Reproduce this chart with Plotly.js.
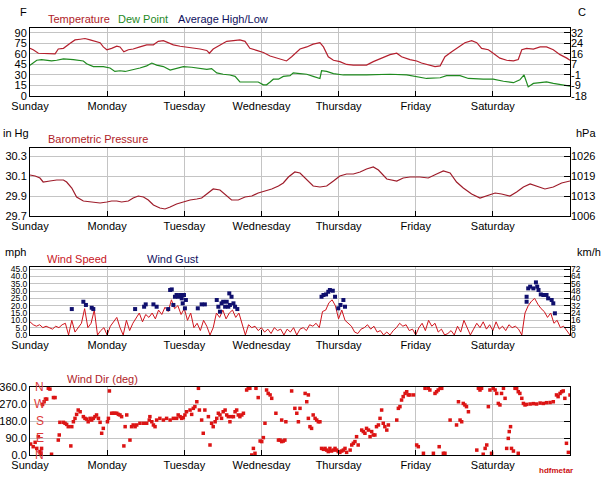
<!DOCTYPE html>
<html>
<head>
<meta charset="utf-8">
<script src="https://cdn.plot.ly/plotly-3.0.1.min.js"></script>
<style>html,body{margin:0;padding:0;background:#fff;}#chart{width:606px;height:484px;}</style>
</head>
<body>
<div id="chart"></div>
<script>
// ---------- categories / tick labels ----------
const dayNames = ["Sunday","Monday","Tuesday","Wednesday","Thursday","Friday","Saturday"];
const dayHours = [0,24,48,72,96,120,144];
const tempTicksF = [0,15,30,45,60,75,90];
const tempTicksC = ["-18","-9","-1","7","16","24","32"];
const presTicksIn = [29.7,29.9,30.1,30.3];
const presTicksHpa = ["1006","1013","1019","1026"];
const windTicksMph = [0,5,10,15,20,25,30,35,40,45];
const windTicksKmh = ["0","8","16","24","32","40","48","56","64","72"];
const dirTicks = [0,90,180,270,360];
const compassLetters = ["N","E","S","W","N"];

// ---------- temperature (F) ----------
const tempHours = [0,1.0,2.6,4.1,7.3,7.8,8.8,10.4,12.4,14.0,15.6,17.1,18.7,20.2,21.8,22.8,23.9,25.4,27.0,28.0,29.2,30.6,32.1,34.2,36.3,38.4,39.9,41.5,43.0,44.6,46.7,48.7,50.8,52.9,55.0,55.8,57.0,59.1,61.2,63.3,65.3,66.9,68.4,70.5,72.6,74.7,76.7,78.8,79.8,81.4,84.0,86.1,88.1,90.2,91.3,92.8,94.4,96.4,98.5,100.6,102.7,104.7,106.8,109.4,112.0,114.1,115.6,118.2,120.3,121.8,123.9,126.0,127.6,129.1,131.2,133.3,135.3,137.4,139.0,140.5,142.6,144.1,146.2,148.3,150.4,151.9,153.0,154.5,156.6,158.7,160.7,162.8,164.9,167.0,168.0];
const tempF = [68,66,61,61,61,60,67,68,75,80,81,82,80,78,76,70,66,68,71,70,63,66,67,70,73,73,78,79,76,73,71,70,68,67,65,61,67,73,78,79,80,78,68,65,62,57,54,51,50,56,67,70,74,76,70,56,51,49,45,44,44,44,49,54,59,61,56,52,50,47,45,42,43,56,63,70,76,79,76,68,66,61,54,51,50,52,66,68,67,70,70,66,59,54,51];

// ---------- dew point (F) ----------
const dewHours = [0,1.0,2.1,3.6,5.2,6.7,8.3,10.4,13.5,15.6,16.6,17.6,19.7,22.8,24.9,26.4,28.0,29.6,31.6,34.2,36.3,37.9,39.4,41.5,43.6,45.6,47.7,50.3,52.9,55.0,56.5,58.1,60.1,62.2,63.8,65.3,67.4,69.5,71.0,72.6,73.6,74.7,75.7,77.3,78.8,80.9,81.9,84.0,86.1,88.1,90.2,90.7,92.3,94.4,97.5,104.7,112.0,117.2,120.3,123.4,127.6,129.6,133.8,136.4,141.0,144.1,147.3,150.4,152.4,153.7,155.0,156.6,158.7,160.7,162.8,165.9,168.0];
const dewF = [44,47,51,52,51,50,51,53,52,51,50,46,42,42,40,35,36,35,37,40,43,47,44,42,37,39,42,41,39,38,39,33,31,30,28,20,20,20,20,16,16,20,24,24,28,29,33,32,31,28,25,36,35,32,30,30,31,30,28,25,26,29,29,25,24,24,21,19,23,30,13,18,19,20,18,15,14];

// ---------- barometric pressure (in Hg) ----------
const presHours = [0,1.6,3.1,4.1,6.2,8.3,10.4,11.4,13.0,14.5,16.6,19.2,21.8,23.9,25.4,27.0,28.5,30.6,32.1,33.7,35.3,36.8,38.4,40.4,42.0,43.6,45.6,47.7,49.8,51.9,53.4,55.0,57.0,59.1,61.2,62.7,64.8,66.9,69.0,71.0,73.1,75.2,77.3,78.8,80.4,82.4,84.0,86.1,88.1,90.2,92.3,94.4,96.4,98.5,100.6,102.7,104.7,106.8,108.4,111.0,114.1,116.1,118.2,121.3,123.9,126.5,128.6,130.7,132.7,134.8,137.4,140.0,142.1,144.7,146.7,149.3,151.4,153.5,155.6,157.6,160.2,162.8,165.4,168.0];
const presIn = [30.11,30.10,30.08,30.04,30.05,30.06,30.06,30.04,29.98,29.89,29.85,29.84,29.83,29.84,29.85,29.85,29.84,29.85,29.88,29.90,29.89,29.86,29.81,29.78,29.77,29.79,29.82,29.84,29.86,29.87,29.88,29.92,29.97,29.96,29.90,29.86,29.86,29.89,29.90,29.93,29.95,29.97,30.00,30.03,30.09,30.14,30.13,30.06,30.00,29.99,30.00,30.05,30.10,30.12,30.12,30.14,30.17,30.19,30.16,30.07,30.05,30.08,30.09,30.09,30.08,30.12,30.15,30.13,30.04,29.98,29.92,29.88,29.90,29.93,29.92,29.90,29.94,29.99,30.02,30.00,29.97,29.99,30.03,30.05];

// ---------- wind speed (mph), hourly from Sunday 00:00 ----------
const windSpeed = [9,7,6,7,5,6,5,4,6,5,7,8,0,10,2,5,8,18,5,8,17,0,3,5,0,6,9,12,5,0,10,3,8,12,15,9,14,12,15,11,17,14,19,16,24,18,20,14,18,10,15,5,8,3,10,6,0,5,15,12,17,11,15,17,12,15,8,0,7,5,6,3,5,2,4,1,5,3,4,0,4,2,5,0,4,5,3,7,6,8,5,16,17,22,24,20,11,17,10,8,6,2,1,4,5,7,4,6,2,3,0,2,0,3,5,8,6,7,3,4,0,5,8,3,10,6,8,2,4,0,1,3,0,6,2,10,5,0,4,8,5,9,4,7,3,9,4,6,3,7,5,6,4,0,15,20,23,25,21,18,16,12,15,8,10,5,6,3,0];
const windHours = windSpeed.map((_, i) => i);

// ---------- wind gust (mph) ----------
const gustHours = [13.0,16.6,17.4,19.2,19.7,32.7,35.5,36.0,38.4,39.4,43.0,43.6,44.1,44.6,45.1,45.6,46.1,46.7,47.2,47.5,47.9,48.2,48.5,52.2,53.4,54.4,58.1,58.6,59.1,59.6,60.1,60.7,61.2,61.7,62.0,62.2,62.7,63.3,63.8,64.5,90.7,91.3,92.1,92.8,93.3,94.2,94.9,95.9,96.6,97.5,98.0,154.5,154.5,155.0,155.6,156.6,157.4,157.8,158.2,158.9,159.7,160.2,160.7,161.2,162.3,162.8,163.3];
const gustMph = [17.7,22.7,20.5,18.6,17.7,17.7,19.3,20.9,20.9,19.3,17.7,30.7,31.1,20.5,26.1,27.3,26.1,27.3,25.0,21.6,27.3,18.2,23.9,18.2,20.9,20.9,23.9,19.3,15.9,21.6,22.7,19.3,22.7,19.3,28.4,20.5,26.1,21.6,19.3,17.7,26.1,27.3,27.7,29.5,30.7,30.2,26.1,18.2,20.5,23.9,19.3,26.1,22.7,31.8,33.0,31.8,35.9,33.0,30.7,27.7,27.3,27.3,27.3,25.0,23.9,21.6,14.8];

// ---------- wind direction (deg) ----------
const dirHours = [0.2,1.0,1.6,2.1,2.6,3.1,3.4,3.6,3.9,4.4,4.8,5.2,5.7,6.2,6.7,7.3,7.8,8.8,9.1,9.3,10.4,10.9,11.4,11.9,12.7,13.0,13.5,14.0,14.5,15.0,15.6,16.6,17.1,17.6,18.1,18.7,19.2,19.7,20.2,20.7,21.3,21.8,22.3,22.8,24.1,24.4,24.7,25.4,25.9,26.4,27.0,27.5,28.0,28.5,29.2,29.6,30.1,31.1,31.6,32.1,32.7,33.2,34.2,35.3,36.3,37.1,37.3,37.9,38.4,38.9,39.4,40.4,41.5,42.5,43.6,44.6,45.6,46.1,46.7,47.2,47.7,48.2,48.7,49.8,50.3,50.8,51.3,51.9,52.4,52.7,53.4,53.9,54.4,55.5,56.0,56.5,57.0,57.6,58.1,58.6,59.1,59.6,60.1,60.7,61.2,61.7,62.2,62.7,63.3,63.8,64.3,64.8,65.3,65.9,66.4,67.4,67.9,68.4,69.0,69.5,70.0,70.3,71.0,71.6,72.1,72.6,73.1,73.6,74.1,74.7,75.2,76.5,77.3,77.8,78.3,78.8,79.3,78.3,79.6,81.4,82.4,83.0,83.5,84.0,85.6,86.6,86.1,86.6,87.1,87.6,88.1,88.7,89.2,89.7,90.2,90.7,91.3,91.8,92.3,92.8,93.3,93.8,94.4,94.9,95.4,95.9,96.4,97.0,97.5,98.0,98.5,99.6,100.1,100.6,101.1,101.6,102.1,103.2,103.7,104.2,104.7,105.3,105.8,106.3,106.8,107.3,107.8,108.4,108.9,109.4,109.9,110.4,111.0,111.5,114.1,114.6,115.1,115.6,116.1,116.7,117.2,117.7,118.2,119.3,120.3,120.8,122.4,122.9,123.9,124.4,125.5,126.0,126.5,127.0,127.3,127.6,128.1,128.6,129.1,130.7,132.7,133.3,133.8,134.3,134.8,135.3,135.8,136.4,139.0,139.5,140.0,140.5,141.0,141.6,142.1,142.6,143.1,143.6,144.1,144.7,145.2,145.7,146.2,146.7,147.3,147.8,148.3,148.8,149.1,149.5,149.8,150.4,150.9,151.4,151.9,151.9,152.4,153.0,153.5,154.0,154.5,155.6,156.6,157.6,158.7,159.7,160.7,161.8,162.8,163.8,164.3,164.9,165.4,165.9,166.4,166.9,167.5,168.0];
const dirDeg = [58,44,67,35,97,18,9,35,268,282,296,296,353,349,4,304,304,79,106,173,173,168,162,150,48,150,176,194,215,238,229,203,194,190,176,194,185,194,203,212,194,173,115,141,176,194,339,221,221,221,221,215,212,203,48,150,212,79,150,159,150,159,168,168,168,185,203,176,159,150,185,194,185,194,185,194,194,212,203,194,198,212,229,238,215,247,256,282,353,238,185,115,238,203,53,168,150,176,194,221,212,194,229,238,212,203,176,203,203,229,238,212,203,212,221,344,353,353,0,35,9,353,304,74,71,92,168,344,326,318,300,221,79,79,71,74,79,185,176,339,247,221,176,247,326,318,282,194,150,141,212,194,185,176,176,35,30,35,26,18,35,21,26,35,26,18,14,21,26,35,14,26,53,62,71,97,53,132,124,115,141,132,97,124,106,106,150,159,194,238,168,150,132,159,185,247,256,291,309,326,335,318,318,318,53,44,9,353,353,344,9,326,335,344,44,353,353,9,9,185,159,282,185,176,273,265,256,229,26,353,344,353,4,35,53,256,344,9,353,344,326,273,265,326,353,300,35,88,124,150,35,21,353,353,9,335,326,300,273,265,268,270,272,270,275,273,277,278,282,318,309,326,335,339,300,62,14,318];

// ---------- styling ----------
const FONT = "Liberation Sans, Arial, sans-serif";
const GRID = "#c4c4c4";
const W = 606, H = 484;
const xDom = [30 / W, 570 / W];
function yDom(top, bottom) { return [1 - bottom / H, 1 - top / H]; }
const panels = [yDom(28, 96), yDom(148, 216), yDom(267, 335), yDom(387, 455)];

function xAxis(i) {
  return {
    domain: xDom, anchor: i === 0 ? "y" : "y" + (2 * i + 1), range: [0, 168],
    tickmode: "array", tickvals: dayHours, ticktext: dayNames,
    showgrid: true, gridcolor: GRID, gridwidth: 1, zeroline: false,
    showline: true, mirror: true, linecolor: "#000", linewidth: 1,
    ticks: "inside", ticklen: 5, tickcolor: "#000",
    tickfont: { family: FONT, size: 11, color: "#000" }, fixedrange: true
  };
}
function yLeft(i, range, vals, text, fs) {
  return {
    domain: panels[i], anchor: i === 0 ? "x" : "x" + (i + 1), range: range,
    tickmode: "array", tickvals: vals, ticktext: text,
    showgrid: true, gridcolor: GRID, gridwidth: 1, zeroline: false,
    showline: true, mirror: true, linecolor: "#000", linewidth: 1,
    ticks: "", tickfont: { family: FONT, size: fs || 11, color: "#000" }, fixedrange: true
  };
}
function yRight(i, range, vals, text, showLabels, fs) {
  return {
    overlaying: i === 0 ? "y" : "y" + (2 * i + 1), side: "right",
    anchor: i === 0 ? "x" : "x" + (i + 1), range: range,
    tickmode: "array", tickvals: vals, ticktext: text, showticklabels: showLabels,
    showgrid: false, zeroline: false, showline: false,
    ticks: "inside", ticklen: 6, tickcolor: "#000",
    tickfont: { family: FONT, size: fs || 11, color: "#000" }, fixedrange: true
  };
}

const tempRange = [0, 97], presRange = [29.7, 30.38], windRange = [0, 46.4], dirRange = [0, 360];
const fmt1 = v => v.toFixed(1);

const layout = {
  width: W, height: H, margin: { l: 0, r: 0, t: 0, b: 0 },
  paper_bgcolor: "#fff", plot_bgcolor: "#fff", showlegend: false,
  font: { family: FONT, size: 11 },
  xaxis: xAxis(0), xaxis2: xAxis(1), xaxis3: xAxis(2), xaxis4: xAxis(3),
  yaxis: yLeft(0, tempRange, tempTicksF, tempTicksF.map(String)),
  yaxis2: yRight(0, tempRange, tempTicksF, tempTicksC, true),
  yaxis3: yLeft(1, presRange, presTicksIn, presTicksIn.map(fmt1)),
  yaxis4: yRight(1, presRange, presTicksIn, presTicksHpa, true),
  yaxis5: yLeft(2, windRange, windTicksMph, windTicksMph.map(fmt1), 8.5),
  yaxis6: yRight(2, windRange, windTicksMph, windTicksKmh, true, 8.5),
  yaxis7: yLeft(3, dirRange, dirTicks, dirTicks.map(fmt1)),
  yaxis8: yRight(3, dirRange, [90, 180, 270], ["", "", ""], false),
  annotations: []
};

function label(text, x, y, color, size, anchor, bold) {
  layout.annotations.push({
    text: bold ? "<b>" + text + "</b>" : text, xref: "paper", yref: "paper",
    x: x / W, y: 1 - y / H, xanchor: anchor || "left", yanchor: "middle",
    showarrow: false, font: { family: FONT, size: size || 11, color: color || "#000" }
  });
}
label("F", 18, 12, "#000", 11);
label("C", 576, 12, "#000", 11);
label("Temperature", 46, 19, "#b01c28", 11);
label("Dew Point", 116, 19, "#1f8a1f", 11);
label("Average High/Low", 176, 19, "#10105e", 11);
label("in Hg", 1, 133, "#000", 11);
label("hPa", 574, 133, "#000", 11);
label("Barometric Pressure", 46, 139, "#b01c28", 11);
label("mph", 3, 252, "#000", 11);
label("km/h", 575, 252, "#000", 11);
label("Wind Speed", 45, 259, "#c8161e", 11);
label("Wind Gust", 145, 259, "#10105e", 11);
label("Wind Dir (deg)", 65, 379, "#b01c28", 11);
label("hdfmetar", 575, 470, "#cc1111", 8, "right", true);
dirTicks.forEach((v, k) => {
  layout.annotations.push({
    text: compassLetters[k], xref: "paper", yref: "y7", x: 40 / W, y: v,
    xanchor: "center", yanchor: "middle", showarrow: false,
    font: { family: FONT, size: 12, color: "#dd3b3b" }
  });
});

const data = [
  { x: tempHours, y: tempF, xaxis: "x", yaxis: "y", type: "scatter", mode: "lines",
    line: { color: "#b4202e", width: 1.2 }, hoverinfo: "skip" },
  { x: dewHours, y: dewF, xaxis: "x", yaxis: "y", type: "scatter", mode: "lines",
    line: { color: "#1f8a1f", width: 1.2 }, hoverinfo: "skip" },
  { x: [], y: [], xaxis: "x", yaxis: "y2", type: "scatter", mode: "lines", hoverinfo: "skip" },
  { x: presHours, y: presIn, xaxis: "x2", yaxis: "y3", type: "scatter", mode: "lines",
    line: { color: "#9e1c2a", width: 1.2 }, hoverinfo: "skip" },
  { x: [], y: [], xaxis: "x2", yaxis: "y4", type: "scatter", mode: "lines", hoverinfo: "skip" },
  { x: windHours, y: windSpeed, xaxis: "x3", yaxis: "y5", type: "scatter", mode: "lines",
    line: { color: "#d0141c", width: 1 }, hoverinfo: "skip" },
  { x: gustHours, y: gustMph, xaxis: "x3", yaxis: "y5", type: "scatter", mode: "markers",
    marker: { symbol: "square", size: 4, color: "#10106e" }, hoverinfo: "skip" },
  { x: [], y: [], xaxis: "x3", yaxis: "y6", type: "scatter", mode: "lines", hoverinfo: "skip" },
  { x: dirHours, y: dirDeg, xaxis: "x4", yaxis: "y7", type: "scatter", mode: "markers",
    marker: { symbol: "square", size: 3.5, color: "#dc1414" }, hoverinfo: "skip" },
  { x: [], y: [], xaxis: "x4", yaxis: "y8", type: "scatter", mode: "lines", hoverinfo: "skip" }
];

Plotly.newPlot("chart", data, layout, { staticPlot: true, displayModeBar: false });
</script>
</body>
</html>
